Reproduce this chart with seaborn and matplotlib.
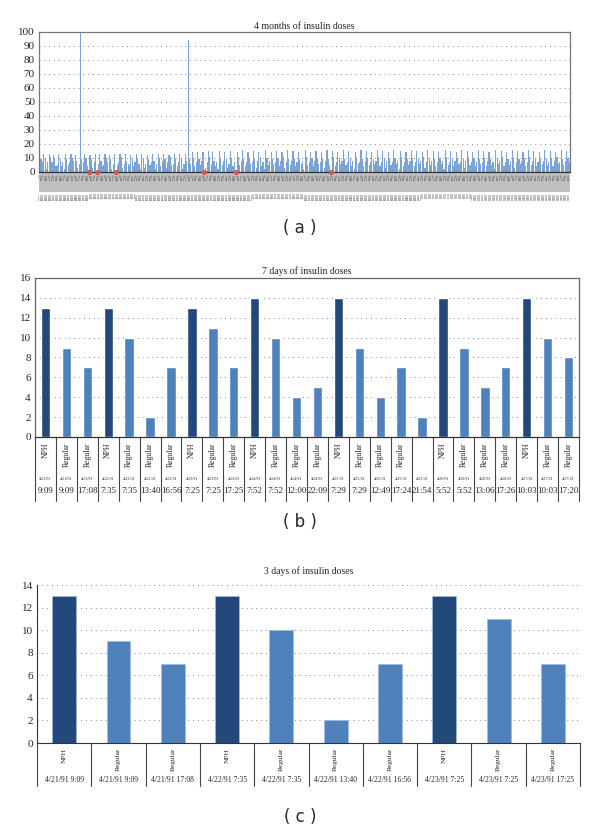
import numpy as np
import matplotlib
matplotlib.use('Agg')
import matplotlib.pyplot as plt
from matplotlib.patches import Rectangle
import pandas as pd
import seaborn as sns

sns.set_style('white')
plt.rcParams['font.family'] = ['Liberation Serif', 'DejaVu Serif']

# ---- data -------------------------------------------------------------
# (a) 4 months of doses, read roughly off the dense bar strip
month_doses = [
    13, 9, 7, 13, 10, 2, 7, 13, 11, 7, 12, 10, 4, 5, 13,
    9, 4, 7, 2, 13, 9, 5, 7, 13, 10, 8, 12, 8, 3, 6,
    100, 9, 7, 13, 10, 4, 0, 12, 9, 3, 7, 13, 0, 6, 13,
    8, 4, 5, 13, 10, 7, 12, 9, 2, 6, 13, 0, 5, 7, 13,
    11, 3, 6, 13, 8, 6, 5, 12, 10, 4, 7, 13, 9, 6, 2,
    13, 10, 3, 6, 12, 9, 5, 7, 13, 8, 2, 6, 13, 10, 4,
    8, 13, 9, 3, 7, 12, 11, 5, 6, 13, 9, 4, 7, 13, 10,
    2, 6, 13, 8, 94, 9, 6, 14, 10, 4, 7, 14, 9, 5, 8,
    14, 0, 3, 7, 15, 11, 6, 14, 8, 4, 7, 2, 15, 10, 5,
    8, 14, 9, 3, 6, 15, 10, 4, 7, 0, 14, 11, 5, 8, 16,
    9, 4, 7, 14, 10, 6, 7, 15, 9, 3, 8, 14, 11, 4, 7,
    2, 16, 10, 5, 8, 14, 9, 6, 7, 15, 10, 4, 8, 14, 11,
    3, 7, 16, 9, 5, 8, 15, 10, 4, 7, 14, 9, 6, 8, 2,
    16, 11, 5, 7, 14, 10, 4, 8, 15, 9, 6, 7, 14, 10, 3,
    8, 16, 9, 5, 0, 15, 11, 4, 7, 14, 10, 6, 8, 16, 9,
    5, 7, 15, 10, 4, 8, 2, 14, 11, 6, 7, 16, 9, 4, 8,
    15, 10, 5, 7, 14, 9, 6, 8, 16, 11, 4, 7, 15, 10, 3,
    8, 14, 9, 5, 7, 16, 10, 6, 8, 2, 15, 11, 4, 7, 14,
    9, 5, 8, 16, 10, 4, 7, 15, 9, 6, 8, 14, 11, 3, 7,
    16, 10, 5, 8, 15, 9, 4, 7, 14, 10, 6, 8, 2, 16, 11,
    5, 7, 15, 9, 4, 8, 14, 10, 6, 7, 16, 9, 3, 8, 15,
    11, 5, 7, 14, 10, 4, 8, 16, 9, 6, 7, 15, 10, 4, 8,
    14, 9, 5, 7, 2, 16, 10, 6, 8, 15, 11, 4, 7, 14, 9,
    5, 8, 16, 10, 3, 7, 15, 9, 6, 8, 14, 10, 4, 7, 16,
    11, 5, 8, 15, 9, 4, 7, 14, 10, 6, 8, 16, 9, 5, 7,
    15, 10, 4, 8, 14, 11, 6, 7, 16, 9, 5, 8, 15, 10, 7,
]

# (b) 7 days
week_types = ['NPH', 'Regular', 'Regular', 'NPH', 'Regular', 'Regular', 'Regular',
              'NPH', 'Regular', 'Regular', 'NPH', 'Regular', 'Regular', 'Regular',
              'NPH', 'Regular', 'Regular', 'Regular', '', 'NPH', 'Regular',
              'Regular', 'Regular', 'NPH', 'Regular', 'Regular']
week_dates = ['4/21/91', '4/21/91', '4/21/91', '4/22/91', '4/22/91', '4/22/91', '4/22/91',
              '4/23/91', '4/23/91', '4/23/91', '4/24/91', '4/24/91', '4/24/91', '4/24/91',
              '4/25/91', '4/25/91', '4/25/91', '4/25/91', '4/25/91', '4/26/91', '4/26/91',
              '4/26/91', '4/26/91', '4/27/91', '4/27/91', '4/27/91']
week_times = ['9:09', '9:09', '17:08', '7:35', '7:35', '13:40', '16:56',
              '7:25', '7:25', '17:25', '7:52', '7:52', '12:00', '22:09',
              '7:29', '7:29', '12:49', '17:24', '21:54', '5:52', '5:52',
              '13:06', '17:26', '10:03', '10:03', '17:20']
week_doses = [13, 9, 7, 13, 10, 2, 7, 13, 11, 7, 14, 10, 4, 5,
              14, 9, 4, 7, 2, 14, 9, 5, 7, 14, 10, 8]

# (c) 3 days
days3_types = ['NPH', 'Regular', 'Regular', 'NPH', 'Regular', 'Regular', 'Regular',
               'NPH', 'Regular', 'Regular']
days3_labels = ['4/21/91 9:09', '4/21/91 9:09', '4/21/91 17:08', '4/22/91 7:35',
                '4/22/91 7:35', '4/22/91 13:40', '4/22/91 16:56', '4/23/91 7:25',
                '4/23/91 7:25', '4/23/91 17:25']
days3_doses = [13, 9, 7, 13, 10, 2, 7, 13, 11, 7]

NPH_COL = '#23487a'
REG_COL = '#4f81bd'
pal = {'NPH': NPH_COL, 'Regular': REG_COL}
grid_kw = dict(color='#888888', linewidth=0.7, linestyle=(0, (1, 4)))

fig = plt.figure(figsize=(6, 8.36), dpi=100)


def label_table(ax, n, y_end):
    # vertical separators under the x axis
    trans = ax.get_xaxis_transform()
    for i in range(n + 1):
        ax.plot([i - 0.5, i - 0.5], [0, y_end], transform=trans, color='#444444',
                linewidth=0.8, clip_on=False)


# ---- (a) ---------------------------------------------------------------
axa = fig.add_axes([0.065, 0.7943, 0.885, 0.1675])
dfa = pd.DataFrame({'slot': range(len(month_doses)), 'dose': month_doses})
sns.barplot(data=dfa, x='slot', y='dose', color='#7ba3d6', width=0.85,
            saturation=1, linewidth=0, ax=axa)
axa.set_ylim(0, 100)
axa.set_xlim(-0.5, len(month_doses) - 0.5)
axa.set_yticks(range(0, 101, 10))
axa.yaxis.grid(True, **grid_kw)
axa.set_axisbelow(True)
zero_idx = [i for i, v in enumerate(month_doses) if v == 0]
axa.scatter(zero_idx, [0] * len(zero_idx), color='#d9534f', s=7, zorder=5, clip_on=False)
month_types = ['NPH' if v >= 12 else 'Regular' for v in month_doses]
axa.set_xticks(range(len(month_doses)))
axa.set_xticklabels(month_types, rotation=90, fontsize=1.4, color='#333333')
axa.tick_params(axis='x', length=0, pad=1)
axa.tick_params(axis='y', length=0, labelsize=8, pad=3)
axa.add_patch(Rectangle((0, -0.14), 1, 0.14, transform=axa.transAxes,
                        facecolor='#c0c0c0', edgecolor='none', clip_on=False, zorder=0.5))
day_no = np.cumsum([1 if t == 'NPH' else 0 for t in month_types])
start = pd.Timestamp('1991-04-21')
for i, d in enumerate(day_no):
    dt = start + pd.Timedelta(days=int(d) - 1)
    axa.text(i, -0.148, f'{dt.month}/{dt.day}/91', transform=axa.get_xaxis_transform(),
             fontsize=1.6, rotation=90, ha='center', va='top', color='#000000')
for s in axa.spines.values():
    s.set_color('#777777')
    s.set_linewidth(0.9)
axa.spines['bottom'].set_color('#333333')
axa.set_xlabel('')
axa.set_ylabel('')
axa.set_title('4 months of insulin doses', fontsize=7, pad=2)
fig.text(0.5, 1 - 228 / 836, '( a )', ha='center', va='center', fontsize=12,
         family='DejaVu Sans')

# ---- (b) ---------------------------------------------------------------
axb = fig.add_axes([0.0583, 0.4773, 0.9067, 0.1902])
week_kind = ['NPH' if t == 'NPH' else 'Regular' for t in week_types]
dfb = pd.DataFrame({'slot': range(len(week_doses)), 'dose': week_doses, 'kind': week_kind})
sns.barplot(data=dfb, x='slot', y='dose', hue='kind', palette=pal, dodge=False,
            width=0.45, saturation=1, legend=False, ax=axb)
axb.set_ylim(0, 16)
axb.set_xlim(-0.5, len(week_doses) - 0.5)
axb.set_yticks(range(0, 17, 2))
axb.yaxis.grid(True, **grid_kw)
axb.set_axisbelow(True)
axb.set_xticks([])
axb.tick_params(axis='y', length=0, labelsize=8, pad=3)
for s in axb.spines.values():
    s.set_color('#666666')
    s.set_linewidth(0.9)
axb.spines['bottom'].set_color('#333333')
axb.set_xlabel('')
axb.set_ylabel('')
label_table(axb, len(week_doses), -0.40)
tb = axb.get_xaxis_transform()
for i in range(len(week_doses)):
    axb.text(i, -0.035, week_types[i], transform=tb, rotation=90, fontsize=5.6,
             ha='center', va='top')
    axb.text(i, -0.265, week_dates[i], transform=tb, fontsize=3, ha='center', va='center')
    axb.text(i, -0.338, week_times[i], transform=tb, fontsize=6.5, ha='center', va='center')
axb.set_title('7 days of insulin doses', fontsize=7, pad=3)
fig.text(0.5, 1 - 522 / 836, '( b )', ha='center', va='center', fontsize=12,
         family='DejaVu Sans')

# ---- (c) ---------------------------------------------------------------
axc = fig.add_axes([0.0617, 0.1112, 0.905, 0.189])
dfc = pd.DataFrame({'slot': range(len(days3_doses)), 'dose': days3_doses, 'kind': days3_types})
sns.barplot(data=dfc, x='slot', y='dose', hue='kind', palette=pal, dodge=False,
            width=0.44, saturation=1, legend=False, edgecolor='#9fbbe0', linewidth=0.5, ax=axc)
axc.set_ylim(0, 14)
axc.set_xlim(-0.5, len(days3_doses) - 0.5)
axc.set_yticks(range(0, 15, 2))
axc.yaxis.grid(True, **grid_kw)
axc.set_axisbelow(True)
axc.set_xticks([])
axc.tick_params(axis='y', length=0, labelsize=8, pad=3)
axc.spines['top'].set_visible(False)
axc.spines['right'].set_visible(False)
axc.spines['left'].set_color('#333333')
axc.spines['bottom'].set_color('#333333')
axc.set_xlabel('')
axc.set_ylabel('')
label_table(axc, len(days3_doses), -0.27)
tc = axc.get_xaxis_transform()
for i in range(len(days3_doses)):
    axc.text(i, -0.03, days3_types[i], transform=tc, rotation=90, fontsize=5.3,
             ha='center', va='top')
    axc.text(i, -0.232, days3_labels[i], transform=tc, fontsize=5.5, ha='center', va='center')
axc.set_title('3 days of insulin doses', fontsize=7, pad=8)
fig.text(0.5, 1 - 817 / 836, '( c )', ha='center', va='center', fontsize=12,
         family='DejaVu Sans')

fig.savefig('out.png', dpi=100)
